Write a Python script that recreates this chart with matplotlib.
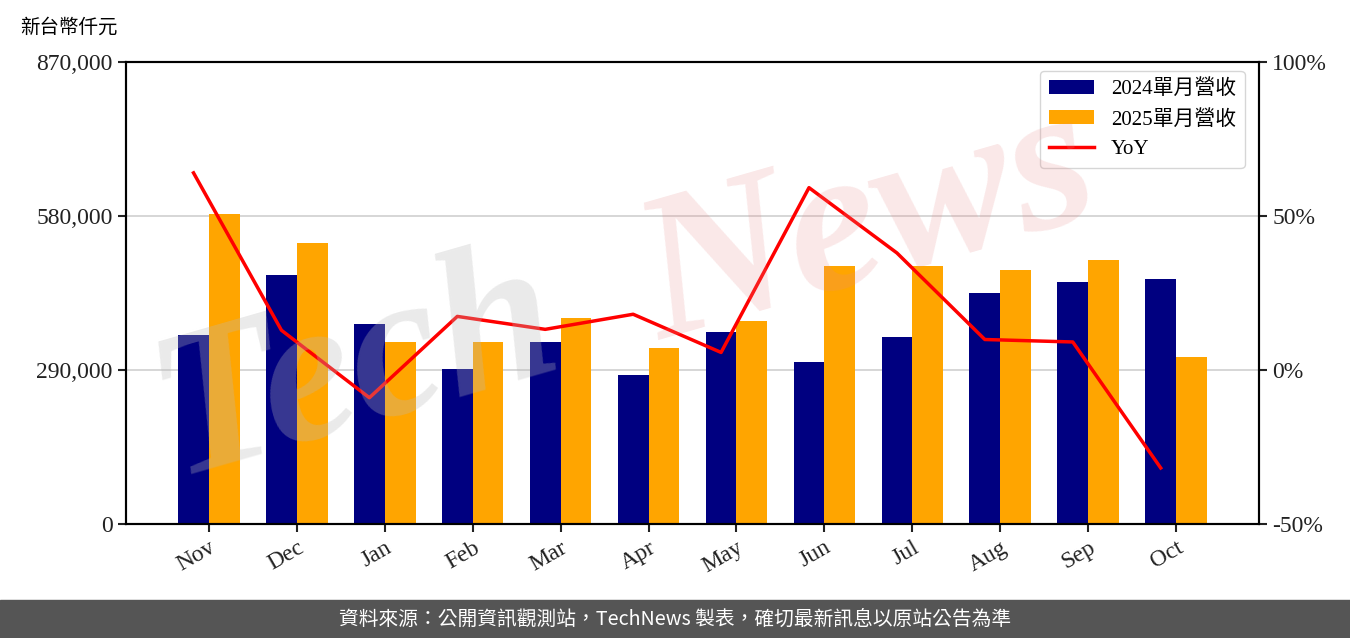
import numpy as np
import matplotlib.pyplot as plt
from matplotlib.ticker import FuncFormatter

months = ['Nov', 'Dec', 'Jan', 'Feb', 'Mar', 'Apr', 'May', 'Jun', 'Jul', 'Aug', 'Sep', 'Oct']
rev_2024 = [355900, 468900, 376600, 291900, 342700, 280600, 361600, 305100, 352100, 435000, 455700, 461400]
rev_2025 = [583800, 529200, 342700, 342700, 387900, 331400, 382300, 485800, 485800, 478300, 497100, 314500]
yoy = [64.0, 12.9, -9.0, 17.4, 13.2, 18.1, 5.7, 59.2, 38.0, 9.9, 9.1, -31.8]

fonts = ['Liberation Serif', 'Noto Sans CJK TC', 'DejaVu Sans']
plt.rcParams['font.family'] = fonts

fig = plt.figure(figsize=(13.5, 6.38), dpi=100)
ax = fig.add_axes([126/1350, 1-524/638, (1259-126)/1350, (524-62)/638])
ax2 = ax.twinx()

x = np.arange(len(months))
w = 0.35
ax.set_axisbelow(True)
ax.yaxis.grid(True, color='#d0d0d0', linewidth=1.2)
b1 = ax.bar(x - w/2, rev_2024, w, color='#000080', label='2024單月營收')
b2 = ax.bar(x + w/2, rev_2025, w, color='#FFA500', label='2025單月營收')
# YoY line sits on the 2024 bar centres, like the source
l1, = ax2.plot(x - w/2, yoy, color='red', linewidth=2.5, label='YoY')

ax.set_ylim(0, 870000)
ax.set_yticks([0, 290000, 580000, 870000])
ax.yaxis.set_major_formatter(FuncFormatter(lambda v, p: f'{int(v):,}'))
ax2.set_ylim(-50, 100)
ax2.set_yticks([-50, 0, 50, 100])
ax2.yaxis.set_major_formatter(FuncFormatter(lambda v, p: f'{int(v)}%'))
ax.set_xlim(-0.943, 11.943)
ax.set_xticks(x)
ax.set_xticklabels(months, rotation=30, ha='right', rotation_mode='anchor')

for a in (ax, ax2):
    a.tick_params(labelsize=17, width=1.5, length=6, colors='#222222')
    for s in a.spines.values():
        s.set_linewidth(1.5)

fig.text(20/1350, 1-27/638, '新台幣仟元', fontsize=14, va='center', ha='left')

ax.legend([b1, b2, l1], ['2024單月營收', '2025單月營收', 'YoY'], loc='upper right',
          fontsize=15, frameon=True, edgecolor='#cccccc', fancybox=True,
          borderpad=0.4, handlelength=2.2, bbox_to_anchor=(0.9965, 1.003))

# watermark
fig.text(0.10, 0.19, 'Tech', fontsize=150, fontweight='bold', style='italic',
         color='#bbbbbb', alpha=0.3, rotation=16, ha='left', va='bottom', zorder=10)
fig.text(0.46, 0.40, 'News', fontsize=150, fontweight='bold', style='italic',
         color='#e88a8a', alpha=0.2, rotation=16, ha='left', va='bottom', zorder=10)

# footer
fig.patches.append(plt.Rectangle((0, 0), 1, 38/638, transform=fig.transFigure,
                                 color='#555555', zorder=0))
fig.text(0.5, 19/638, '資料來源：公開資訊觀測站，TechNews 製表，確切最新訊息以原站公告為準',
         color='white', fontsize=14.2, ha='center', va='center',
         family=['Noto Sans CJK TC', 'DejaVu Sans'])

fig.savefig('out.png', dpi=100)
